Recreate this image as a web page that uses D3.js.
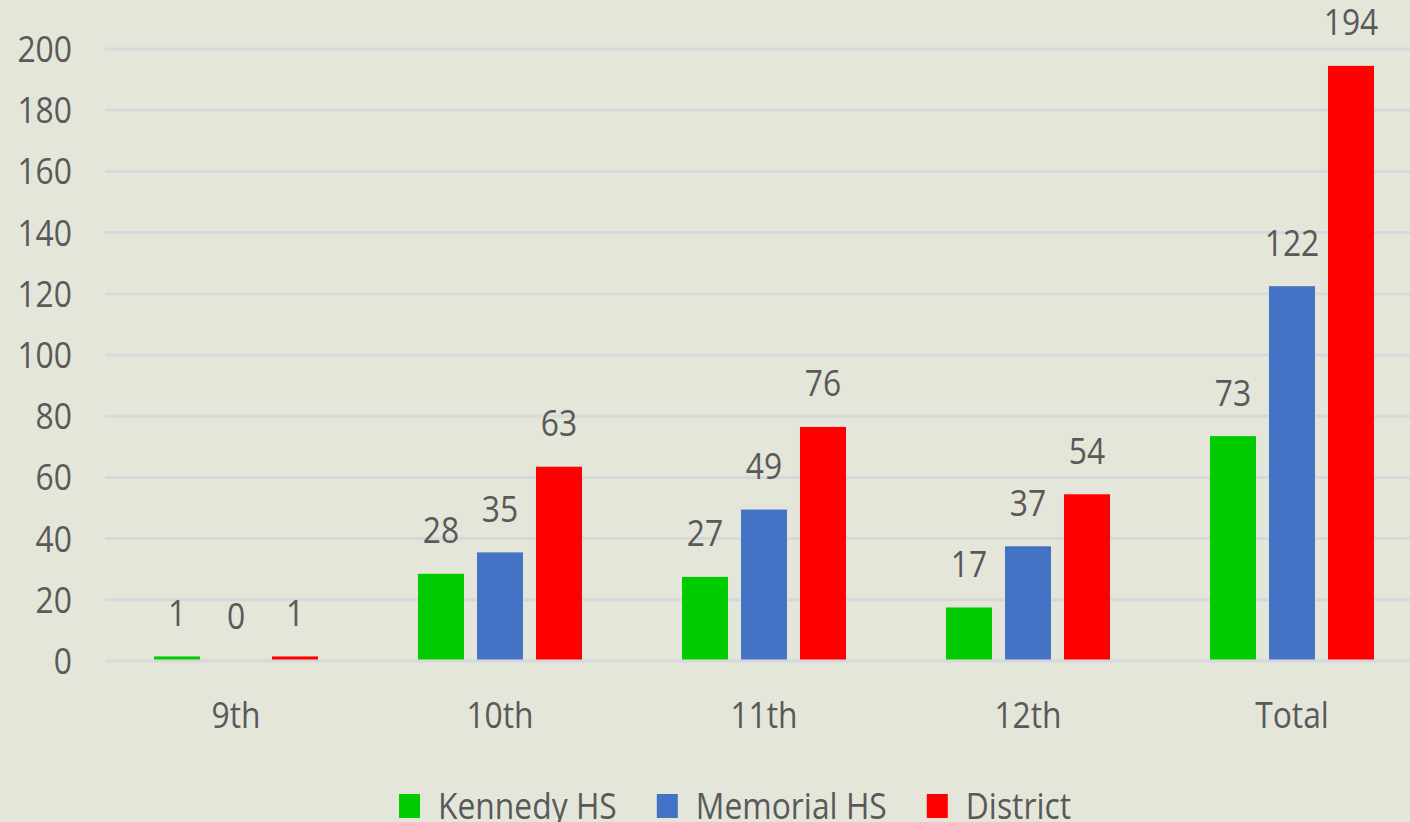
<!DOCTYPE html>
<html>
<head>
<meta charset="utf-8">
<script src="https://cdn.jsdelivr.net/npm/d3@7"></script>
<style>
  html, body { margin: 0; padding: 0; background: #e4e6da; }
  svg { display: block; }
  text { font-family: "Open Sans", "Noto Sans", sans-serif; fill: #595959; }
</style>
</head>
<body>
<svg id="chart" width="1410" height="822"></svg>
<script>
// data
const grades = ["9th", "10th", "11th", "12th", "Total"];
const series = ["Kennedy HS", "Memorial HS", "District"];
const kennedy = [1, 28, 27, 17, 73];
const memorial = [0, 35, 49, 37, 122];
const district = [1, 63, 76, 54, 194];
const yTicks = [0, 20, 40, 60, 80, 100, 120, 140, 160, 180, 200];
const colors = ["#00cc00", "#4472c4", "#ff0000"];

const values = [kennedy, memorial, district];
const W = 1410, H = 822;
const sx = 0.86;   // glyphs in the picture are a bit narrow
const svg = d3.select("#chart");

const x0 = d3.scaleBand().domain(grades).range([104, 1424]);
const x1 = d3.scaleBand().domain(series).range([50, 214]).paddingInner(0.22);
const y = d3.scaleLinear().domain([0, 200]).range([661, 49]);

function label(g, txt, x, yy, size, anchor) {
    g.append("text")
        .attr("transform", `translate(${x},${yy}) scale(${sx},1)`)
        .attr("text-anchor", anchor)
        .style("font-size", size + "px")
        .text(txt);
}

// grid lines + y labels
const grid = svg.append("g");
grid.selectAll("line")
    .data(yTicks)
    .enter().append("line")
    .attr("x1", 105).attr("x2", W)
    .attr("y1", d => y(d)).attr("y2", d => y(d))
    .attr("stroke", "#d8d8dc")
    .attr("stroke-width", 3);
yTicks.forEach(t => label(grid, t, 72, y(t) + 13, 37, "end"));

// bars (sit just on top of the zero line)
const groups = svg.append("g").selectAll("g")
    .data(grades)
    .enter().append("g")
    .attr("transform", d => `translate(${x0(d)},0)`);

groups.selectAll("rect")
    .data((d, i) => series.map((s, j) => ({s: s, v: values[j][i], c: colors[j]})))
    .enter().append("rect")
    .attr("x", d => x1(d.s))
    .attr("y", d => y(d.v) - 1.5)
    .attr("width", x1.bandwidth())
    .attr("height", d => Math.max(0, y(0) - y(d.v)))
    .attr("fill", d => d.c);

groups.each(function(d, i) {
    const g = d3.select(this);
    series.forEach((s, j) => {
        label(g, values[j][i], x1(s) + x1.bandwidth() / 2, y(values[j][i]) - 32, 37, "middle");
    });
});

// x labels
const xg = svg.append("g");
grades.forEach(g => label(xg, g, x0(g) + x0.bandwidth() / 2, 728, 37, "middle"));

// legend
const leg = svg.append("g");
let lx = 399;
series.forEach((s, j) => {
    leg.append("rect")
        .attr("x", lx).attr("y", 794)
        .attr("width", 21).attr("height", 24)
        .attr("fill", colors[j]);
    const t = leg.append("text")
        .attr("transform", `translate(${lx + 39},819) scale(${sx},1)`)
        .style("font-size", "37px")
        .text(s);
    const w = t.node().getComputedTextLength() * sx;
    lx += 39 + w + 40;
});
</script>
</body>
</html>
